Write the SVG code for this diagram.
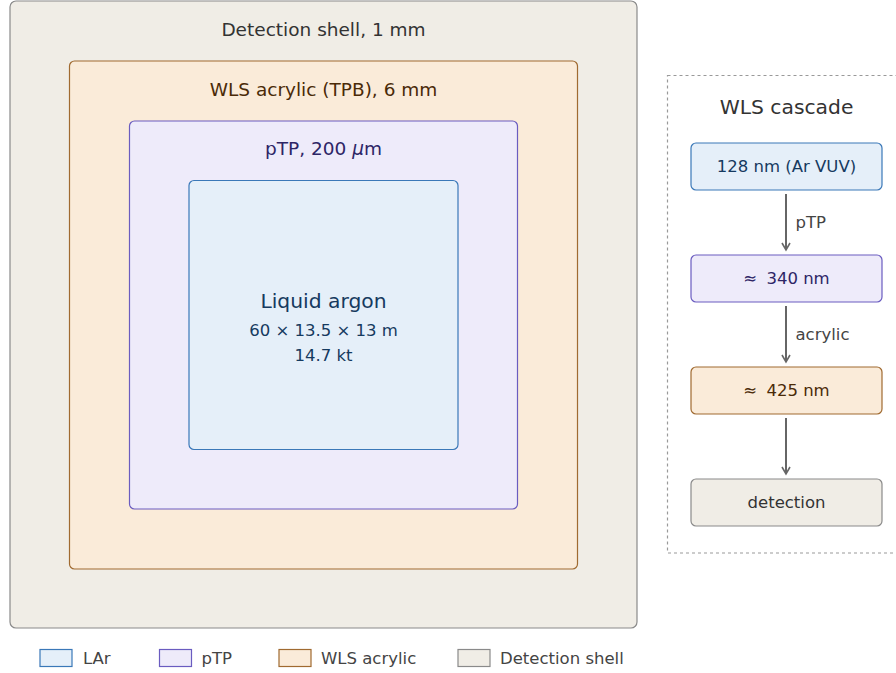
<svg xmlns="http://www.w3.org/2000/svg" width="896" height="673" viewBox="0 0 896 673">
<style>
text{font-family:"DejaVu Sans","Liberation Sans",sans-serif}
.t{font-size:18.5px;text-anchor:middle}
.n{font-size:16.5px;text-anchor:middle}
.lg{font-size:16.5px;fill:#444}
.shell{fill:#f0ede6;stroke:#8a8a8a;stroke-width:1.2}
.acr{fill:#faebd9;stroke:#a06a30;stroke-width:1.2}
.ptp{fill:#eeebfa;stroke:#6a5cc0;stroke-width:1.2}
.lar{fill:#e5eff9;stroke:#3a78b8;stroke-width:1.2}
.cs{fill:#333}.ca{fill:#4a2a08}.cp{fill:#2d2566}.cl{fill:#163a5f}
.arr{stroke:#666;stroke-width:2;fill:none;marker-end:url(#ah)}
</style>
<defs>
<marker id="ah" viewBox="0 0 10 10" refX="8" refY="5" markerWidth="10" markerHeight="10" markerUnits="userSpaceOnUse" orient="auto">
<path d="M1,1 L8,5 L1,9" fill="none" stroke="#666" stroke-width="1.6"/>
</marker>
</defs>
<g id="detection-shell">
<rect class="shell" x="10" y="1" width="627" height="627" rx="6"/>
<text class="t cs" x="323.5" y="36">Detection shell, 1 mm</text>
</g>
<g id="wls-acrylic">
<rect class="acr" x="69.5" y="61" width="508" height="508" rx="5"/>
<text class="t ca" x="323.5" y="96">WLS acrylic (TPB), 6 mm</text>
</g>
<g id="ptp">
<rect class="ptp" x="129.5" y="121" width="388" height="388" rx="5"/>
<text class="t cp" x="323.5" y="155">pTP, 200 <tspan font-style="italic">μ</tspan>m</text>
</g>
<g id="liquid-argon">
<rect class="lar" x="189" y="180.5" width="269" height="269" rx="5"/>
<text class="cl" x="323.5" y="308" font-size="20.3" text-anchor="middle">Liquid argon</text>
<text class="n cl" x="323.5" y="336">60 × 13.5 × 13 m</text>
<text class="n cl" x="323.5" y="361">14.7 kt</text>
</g>
<g id="cascade-panel">
<rect x="667.5" y="75.5" width="240" height="477.5" fill="none" stroke="#999" stroke-width="1.2" stroke-dasharray="3,3"/>
<text x="786.5" y="114" font-size="20.3" text-anchor="middle" fill="#333">WLS cascade</text>
</g>
<g id="c-128">
<rect class="lar" x="691" y="143" width="191" height="47" rx="5"/>
<text class="n cl" x="786.5" y="172">128 nm (Ar VUV)</text>
</g>
<g id="c-340">
<rect class="ptp" x="691" y="255" width="191" height="47" rx="5"/>
<text class="n cp" x="786.5" y="284">≈ <tspan dx="4">340 nm</tspan></text>
</g>
<g id="c-425">
<rect class="acr" x="691" y="367" width="191" height="47" rx="5"/>
<text class="n ca" x="786.5" y="396">≈ <tspan dx="4">425 nm</tspan></text>
</g>
<g id="c-detection">
<rect class="shell" x="691" y="479" width="191" height="47" rx="5"/>
<text class="n cs" x="786.5" y="508">detection</text>
</g>
<g id="connectors">
<line class="arr" x1="786" y1="194" x2="786" y2="250"/>
<line class="arr" x1="786" y1="306" x2="786" y2="362"/>
<line class="arr" x1="786" y1="418" x2="786" y2="474"/>
<text x="795.5" y="228" font-size="16.5" fill="#444">pTP</text>
<text x="795.5" y="340" font-size="16.5" fill="#444">acrylic</text>
</g>
<g id="legend">
<rect class="lar" x="40" y="649.5" width="32" height="17"/>
<text class="lg" x="83" y="664">LAr</text>
<rect class="ptp" x="159.5" y="649.5" width="32" height="17"/>
<text class="lg" x="201.5" y="664">pTP</text>
<rect class="acr" x="279" y="649.5" width="32" height="17"/>
<text class="lg" x="321" y="664">WLS acrylic</text>
<rect class="shell" x="458" y="649.5" width="32" height="17"/>
<text class="lg" x="500" y="664">Detection shell</text>
</g>
</svg>
